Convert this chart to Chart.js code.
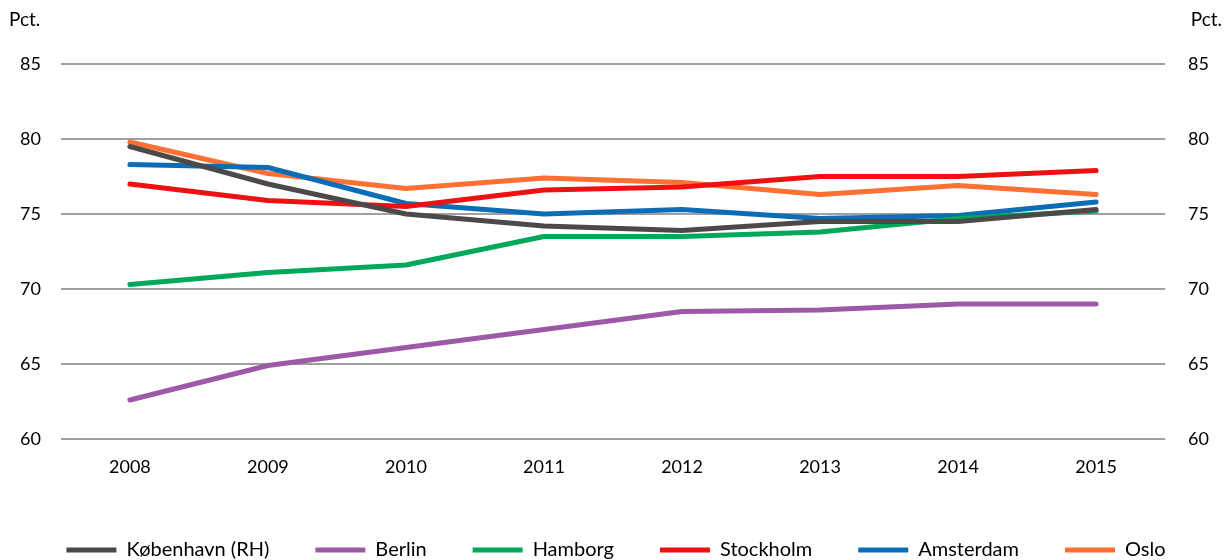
<!DOCTYPE html>
<html>
<head>
<meta charset="utf-8">
<script src="https://cdn.jsdelivr.net/npm/chart.js@4/dist/chart.umd.min.js"></script>
<style>
  html, body { margin: 0; padding: 0; background: #fff; overflow: hidden; }
  #clip { width: 1232px; height: 560px; overflow: hidden; }
  #wrap { width: 1232px; height: 570px; position: relative; }
</style>
</head>
<body>
<div id="clip"><div id="wrap"><canvas id="chart"></canvas></div></div>
<script>
const years = ['2008', '2009', '2010', '2011', '2012', '2013', '2014', '2015'];
const koebenhavn = [79.5, 77.0, 75.0, 74.2, 73.9, 74.5, 74.5, 75.3];
const berlin = [62.6, 64.9, 66.1, 67.3, 68.5, 68.6, 69.0, 69.0];
const hamborg = [70.3, 71.1, 71.6, 73.5, 73.5, 73.8, 74.7, 75.2];
const stockholm = [77.0, 75.9, 75.5, 76.6, 76.8, 77.5, 77.5, 77.9];
const amsterdam = [78.3, 78.1, 75.7, 75.0, 75.3, 74.7, 74.9, 75.8];
const oslo = [79.8, 77.7, 76.7, 77.4, 77.1, 76.3, 76.9, 76.3];
const yTicks = [60, 65, 70, 75, 80, 85];

const font = "Lato, 'Open Sans', sans-serif";

function series(label, data, color) {
    return {
        label: label,
        data: data,
        borderColor: color,
        backgroundColor: color,
        borderWidth: 5,
        pointRadius: 0,
        tension: 0,
        borderCapStyle: 'round',
        borderJoinStyle: 'round',
        pointStyle: 'line',
        yAxisID: 'y'
    };
}

// "Pct." above both value axes
const unitLabels = {
    id: 'unitLabels',
    afterDraw(chart) {
        const ctx = chart.ctx;
        ctx.save();
        ctx.font = '19px ' + font;
        ctx.fillStyle = '#000';
        ctx.textBaseline = 'middle';
        ctx.textAlign = 'left';
        ctx.fillText('Pct.', 9, 20);
        ctx.textAlign = 'right';
        ctx.fillText('Pct.', 1222, 20);
        ctx.restore();
    }
};

new Chart(document.getElementById('chart'), {
    type: 'line',
    data: {
        labels: years,
        datasets: [
            series('København (RH)', koebenhavn, '#4d4948'),
            series('Berlin', berlin, '#9b59a6'),
            series('Hamborg', hamborg, '#00a85a'),
            series('Stockholm', stockholm, '#ee1111'),
            series('Amsterdam', amsterdam, '#0a6db5'),
            series('Oslo', oslo, '#ff7033')
        ]
    },
    options: {
        responsive: true,
        maintainAspectRatio: false,
        animation: false,
        layout: { padding: { top: 64, left: 0, right: 0, bottom: 0 } },
        plugins: {
            legend: {
                position: 'bottom',
                labels: {
                    usePointStyle: true,
                    pointStyleWidth: 50,
                    boxHeight: 5,
                    padding: 46,
                    color: '#000',
                    font: { family: font, size: 20 }
                }
            },
            tooltip: { enabled: false }
        },
        scales: {
            x: {
                offset: true,
                grid: { display: false },
                border: { display: false },
                ticks: { color: '#000', font: { family: font, size: 18 }, padding: 9 },
                afterFit: axis => { axis.height = 55; }
            },
            y: {
                position: 'left',
                min: 60,
                max: 85,
                afterBuildTicks: axis => { axis.ticks = yTicks.map(v => ({ value: v })); },
                grid: { color: '#a0a0a0', lineWidth: 2, drawTicks: false },
                border: { display: false },
                ticks: { color: '#000', font: { family: font, size: 18 }, padding: 20 }
            },
            y1: {
                position: 'right',
                min: 60,
                max: 85,
                afterBuildTicks: axis => { axis.ticks = yTicks.map(v => ({ value: v })); },
                grid: { display: false, drawTicks: false },
                border: { display: false },
                ticks: { color: '#000', font: { family: font, size: 18 }, padding: 23 }
            }
        }
    },
    plugins: [unitLabels]
});
</script>
</body>
</html>
